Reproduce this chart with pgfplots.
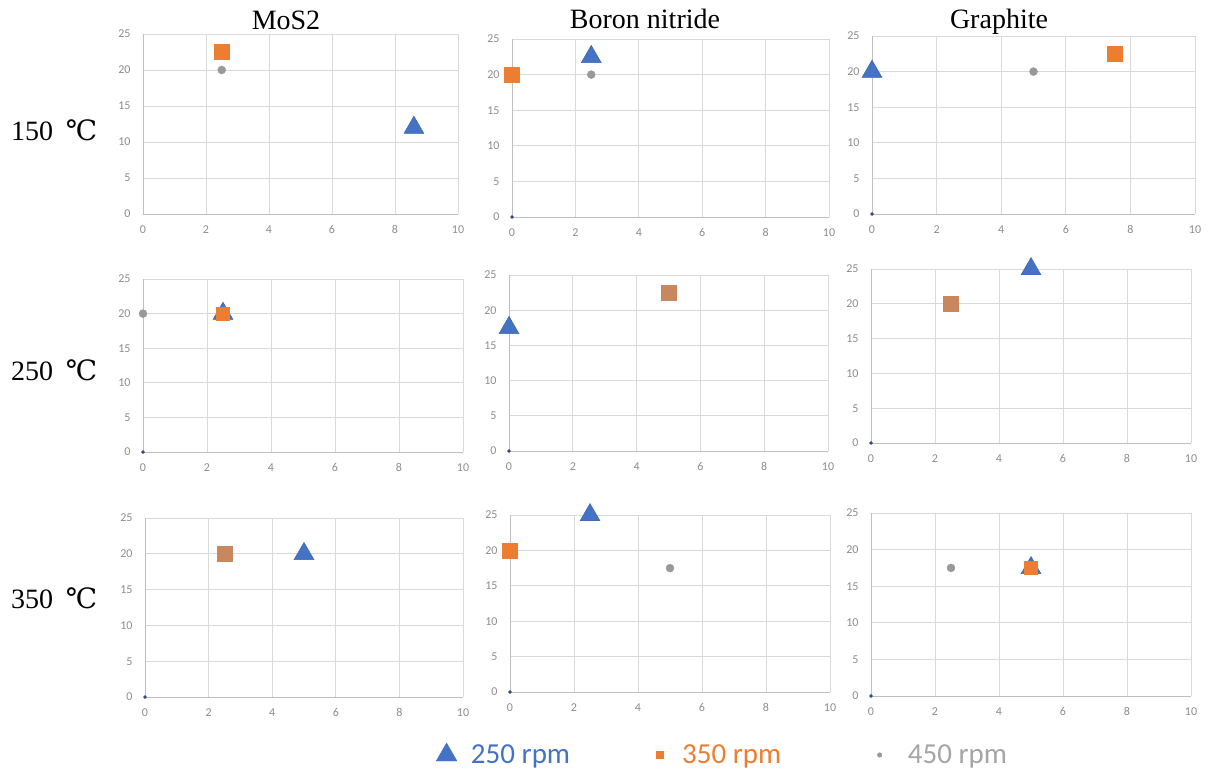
\documentclass[border=0pt]{standalone}
\usepackage{pgfplots}
\pgfplotsset{compat=1.18}
\usepackage{fontspec}
\setmainfont{Liberation Serif}
\newfontfamily\carlito{Carlito}
\newfontfamily\dvserif{DejaVu Serif}
\definecolor{cblue}{HTML}{4472C4}
\definecolor{corange}{HTML}{ED7D31}
\definecolor{cgray}{HTML}{A5A5A5}
\definecolor{cdot}{HTML}{999999}
\definecolor{cbrown}{HTML}{C8875C}
\definecolor{cgrid}{HTML}{D9D9D9}
\definecolor{caxis}{HTML}{BFBFBF}
\definecolor{ctick}{HTML}{8C8C8C}
\definecolor{cnavy}{HTML}{2F4A80}
\newcommand{\degC}{\iffontchar\font"2103 ℃\else{\dvserif ℃}\fi}
\pgfplotsset{
 panel/.style={
   scale only axis, anchor=south west, clip=false,
   xmin=0,xmax=10,ymin=0,ymax=25,
   xtick={0,2,...,10}, ytick={0,5,...,25},
   grid=major, major grid style={cgrid, line width=0.8pt},
   axis x line*=bottom, axis y line*=left,
   axis line style={caxis, line width=0.9pt, -},
   major tick length=0pt,
   tick label style={font=\carlito\fontsize{12}{12}\selectfont, text=ctick},
   /pgf/number format/assume math mode=true,
   xticklabel style={yshift=-8pt},
   yticklabel style={xshift=-9pt},
 },
 tri/.style={only marks, mark=triangle*, mark size=11.5pt, mark options={fill=cblue, draw=cblue!85!black, line width=0.4pt}},
 sq/.style={only marks, mark=square*, mark size=7.5pt, mark options={fill=corange, draw=corange}},
 sqb/.style={only marks, mark=square*, mark size=7.5pt, mark options={fill=cbrown, draw=cbrown}},
 circ/.style={only marks, mark=*, mark size=4pt, mark options={fill=cdot, draw=cdot}},
 zdot/.style={only marks, mark=*, mark size=1.5pt, mark options={fill=cnavy, draw=cnavy}},
}
\begin{document}
\begin{tikzpicture}
\path[use as bounding box] (0pt,0pt) rectangle (1208pt,-771pt);
% titles
\node[font=\fontsize{28}{30}\selectfont, anchor=base] at (286pt,-29pt) {MoS2};
\node[font=\fontsize{28}{30}\selectfont, anchor=base] at (645pt,-28pt) {Boron nitride};
\node[font=\fontsize{28}{30}\selectfont, anchor=base] at (999pt,-28pt) {Graphite};
\node[font=\fontsize{28}{30}\selectfont, anchor=west, inner sep=0pt] at (11pt,-130pt) {150\hspace{0.45em}\degC};
\node[font=\fontsize{28}{30}\selectfont, anchor=west, inner sep=0pt] at (11pt,-370pt) {250\hspace{0.45em}\degC};
\node[font=\fontsize{28}{30}\selectfont, anchor=west, inner sep=0pt] at (11pt,-598pt) {350\hspace{0.45em}\degC};

% Row 1
\begin{axis}[panel, at={(143pt,-214pt)}, width=315pt, height=180pt]
\addplot[circ] coordinates {(2.5,20)};
\addplot[tri] coordinates {(8.6,12)};
\addplot[sq] coordinates {(2.5,22.5)};
\end{axis}
\begin{axis}[panel, at={(512pt,-217pt)}, width=317pt, height=178pt]
\addplot[zdot] coordinates {(0,0)};
\addplot[circ] coordinates {(2.5,20)};
\addplot[tri] coordinates {(2.5,22.5)};
\addplot[sq] coordinates {(0,20)};
\end{axis}
\begin{axis}[panel, at={(872pt,-214pt)}, width=323pt, height=178pt]
\addplot[zdot] coordinates {(0,0)};
\addplot[circ] coordinates {(5,20)};
\addplot[tri] coordinates {(0,20)};
\addplot[sq] coordinates {(7.5,22.5)};
\end{axis}

% Row 2
\begin{axis}[panel, at={(143pt,-452pt)}, width=320pt, height=173pt]
\addplot[zdot] coordinates {(0,0)};
\addplot[circ] coordinates {(0,20)};
\addplot[tri] coordinates {(2.5,20)};
\addplot[sq, mark size=6.5pt] coordinates {(2.5,20)};
\end{axis}
\begin{axis}[panel, at={(509pt,-451pt)}, width=319pt, height=176pt]
\addplot[zdot] coordinates {(0,0)};
\addplot[circ] coordinates {(5,22.5)};
\addplot[tri] coordinates {(0,17.5)};
\addplot[sqb] coordinates {(5,22.5)};
\end{axis}
\begin{axis}[panel, at={(871pt,-443pt)}, width=320pt, height=174pt]
\addplot[zdot] coordinates {(0,0)};
\addplot[circ] coordinates {(2.5,20)};
\addplot[tri] coordinates {(5,25)};
\addplot[sqb] coordinates {(2.5,20)};
\end{axis}

% Row 3
\begin{axis}[panel, at={(145pt,-697pt)}, width=318pt, height=179pt]
\addplot[zdot] coordinates {(0,0)};
\addplot[circ] coordinates {(2.5,20)};
\addplot[tri] coordinates {(5,20)};
\addplot[sqb] coordinates {(2.5,20)};
\end{axis}
\begin{axis}[panel, at={(510pt,-692pt)}, width=320pt, height=177pt]
\addplot[zdot] coordinates {(0,0)};
\addplot[circ] coordinates {(5,17.5)};
\addplot[tri] coordinates {(2.5,25)};
\addplot[sq] coordinates {(0,20)};
\end{axis}
\begin{axis}[panel, at={(871pt,-696pt)}, width=320pt, height=183pt]
\addplot[zdot] coordinates {(0,0)};
\addplot[circ] coordinates {(2.5,17.5)};
\addplot[tri] coordinates {(5,17.5)};
\addplot[sq, mark size=6.5pt] coordinates {(5,17.5)};
\end{axis}

% legend
\begin{axis}[hide axis, scale only axis, width=10pt, height=10pt, anchor=south west,
  at={(436pt,-760pt)}, xmin=0,xmax=1,ymin=0,ymax=1,
  legend columns=3,
  legend style={at={(0,0.5)}, anchor=west, draw=none, fill=none, inner sep=0pt,
    font=\carlito\fontsize{29}{31}\selectfont,
    /tikz/column 1/.style={column sep=12pt},
    /tikz/column 2/.style={column sep=84pt},
    /tikz/column 3/.style={column sep=17pt},
    /tikz/column 4/.style={column sep=94pt},
    /tikz/column 5/.style={column sep=24pt}},
  legend cell align=left]
\addlegendimage{only marks, mark=triangle*, mark size=12pt, mark options={fill=cblue, draw=cblue}}
\addlegendentry{\textcolor{cblue}{250 rpm}}
\addlegendimage{only marks, mark=square*, mark size=3.5pt, mark options={fill=corange, draw=corange}}
\addlegendentry{\textcolor{corange}{350 rpm}}
\addlegendimage{only marks, mark=*, mark size=2.3pt, mark options={fill=cdot, draw=cdot}}
\addlegendentry{\textcolor{cgray}{450 rpm}}
\end{axis}
\end{tikzpicture}
\end{document}
